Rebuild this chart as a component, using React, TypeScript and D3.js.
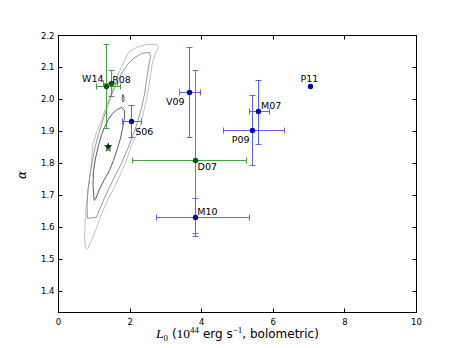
import React from "react";
import * as d3 from "d3";

// sources: luminosity L0 (1e44 erg/s) and alpha with error ranges
const sourceNames = ["W14", "R08", "S06", "V09", "D07", "M10", "P09", "M07", "P11"];
const sourceGroup = ["g", "g", "b", "b", "g", "b", "b", "b", "b"];
const lumValues = [1.34, 1.47, 2.03, 3.66, 3.83, 3.82, 5.42, 5.6, 7.04];
const alphaValues = [2.041, 2.05, 1.932, 2.021, 1.81, 1.63, 1.902, 1.961, 2.04];
const lumLow = [1.05, 1.25, 1.8, 3.37, 2.08, 2.75, 4.6, 5.33, null];
const lumHigh = [1.72, 1.65, 2.32, 3.97, 5.25, 5.33, 6.32, 5.9, null];
const alphaLow = [1.91, 2.01, 1.882, 1.881, 1.58, 1.571, 1.792, 1.86, null];
const alphaHigh = [2.171, 2.09, 1.98, 2.162, 2.09, 1.69, 2.011, 2.06, null];

// best-fit markers
const starPoint = [1.39, 1.852];
const crossPoint = [1.39, 1.844];

// likelihood contours (outer -> inner)
const contourOuter: [number, number][] = [
  [1.955, 2.147], [2.179, 2.163], [2.458, 2.172], [2.737, 2.172], [2.793, 2.163],
  [2.709, 2.144], [2.626, 2.116], [2.57, 2.078], [2.514, 2.034], [2.458, 1.997],
  [2.374, 1.959], [2.291, 1.922], [2.179, 1.888], [2.039, 1.856], [1.927, 1.819],
  [1.76, 1.772], [1.564, 1.725], [1.369, 1.684], [1.201, 1.641], [1.061, 1.597],
  [0.922, 1.559], [0.81, 1.531], [0.754, 1.538], [0.726, 1.566], [0.74, 1.606],
  [0.768, 1.653], [0.81, 1.7], [0.866, 1.753], [0.922, 1.803], [0.95, 1.853],
  [1.061, 1.897], [1.201, 1.934], [1.313, 1.972], [1.425, 2.006], [1.536, 2.038],
  [1.648, 2.072], [1.76, 2.103], [1.872, 2.128],
];
const contourMiddle: [number, number][] = [
  [2.095, 2.128], [2.318, 2.144], [2.542, 2.147], [2.57, 2.134], [2.514, 2.103],
  [2.458, 2.059], [2.402, 2.016], [2.318, 1.972], [2.207, 1.928], [2.067, 1.884],
  [1.927, 1.844], [1.76, 1.8], [1.592, 1.763], [1.425, 1.725], [1.285, 1.691],
  [1.173, 1.663], [1.061, 1.631], [0.81, 1.628], [0.796, 1.669], [0.824, 1.716],
  [0.88, 1.763], [0.95, 1.809], [1.034, 1.856], [1.145, 1.9], [1.257, 1.941],
  [1.369, 1.978], [1.48, 2.013], [1.62, 2.05], [1.76, 2.081], [1.927, 2.109],
];
const contourInner: [number, number][] = [
  [0.997, 1.684], [0.964, 1.731], [0.978, 1.778], [1.034, 1.816], [1.117, 1.856],
  [1.201, 1.888], [1.285, 1.913], [1.397, 1.938], [1.508, 1.956], [1.648, 1.969],
  [1.76, 1.975], [1.844, 1.966], [1.844, 1.941], [1.788, 1.909], [1.732, 1.878],
  [1.648, 1.847], [1.536, 1.809], [1.425, 1.778], [1.285, 1.75], [1.145, 1.719],
  [1.034, 1.688],
];
const contourIsland: [number, number][] = [
  [1.8, 2.016], [1.83, 2.006], [1.83, 1.996], [1.8, 1.992], [1.775, 2.0],
];

const xTicks = [0, 2, 4, 6, 8, 10];
const yTicks = [1.4, 1.5, 1.6, 1.7, 1.8, 1.9, 2.0, 2.1, 2.2];

// label placement relative to the marker
const labelPlace: Record<string, { dx: number; dy: number; anchor: string }> = {
  W14: { dx: -3, dy: -4, anchor: "end" },
  R08: { dx: 1, dy: 0, anchor: "start" },
  S06: { dx: 4, dy: 14, anchor: "start" },
  V09: { dx: -5, dy: 12, anchor: "end" },
  D07: { dx: 2, dy: 10, anchor: "start" },
  M10: { dx: 2, dy: -3, anchor: "start" },
  P09: { dx: -3, dy: 12, anchor: "end" },
  M07: { dx: 2, dy: -3, anchor: "start" },
  P11: { dx: -10, dy: -5, anchor: "start" },
};

const W = 463;
const H = 348;
const left = 58.5, right = 416.5, top = 35.5, bottom = 312.5;

// snap to pixel centre so 1px lines stay crisp
const px = (v: number) => Math.round(v - 0.5) + 0.5;

export default function App() {
  const x = d3.scaleLinear().domain([0, 10]).range([left, right]);
  const y = d3.scaleLinear().domain([1.333, 2.2]).range([bottom, top]);
  const line = d3
    .line<[number, number]>()
    .x((d) => x(d[0]))
    .y((d) => y(d[1]))
    .curve(d3.curveLinearClosed);

  const errColor = { g: "#45a345", b: "#5f5ff8" };
  const dotColor = { g: "#005a00", b: "#0000b4" };
  const cap = 3;
  const font = "'DejaVu Sans', sans-serif";

  return (
    <svg
      width={W}
      height={H}
      style={{ position: "absolute", left: 0, top: 0, background: "#fff" }}
    >
      <defs>
        <clipPath id="plotArea">
          <rect x={left} y={top} width={right - left} height={bottom - top} />
        </clipPath>
      </defs>
      <g clipPath="url(#plotArea)" fill="none" strokeWidth={0.9}>
        <path d={line(contourOuter) || ""} stroke="#b8b8b8" />
        <path d={line(contourMiddle) || ""} stroke="#8c8c8c" />
        <path d={line(contourInner) || ""} stroke="#4a4a4a" />
        <path d={line(contourIsland) || ""} stroke="#4a4a4a" />
      </g>

      {sourceNames.map((name, i) => {
        const c = errColor[sourceGroup[i] as "g" | "b"];
        const cx = px(x(lumValues[i]));
        const cy = px(y(alphaValues[i]));
        const lo = lumLow[i], hi = lumHigh[i], alo = alphaLow[i], ahi = alphaHigh[i];
        return (
          <g key={"err" + name} stroke={c} strokeWidth={1}>
            {lo != null && hi != null && (
              <>
                <line x1={px(x(lo))} x2={px(x(hi))} y1={cy} y2={cy} />
                <line x1={px(x(lo))} x2={px(x(lo))} y1={cy - cap} y2={cy + cap} />
                <line x1={px(x(hi))} x2={px(x(hi))} y1={cy - cap} y2={cy + cap} />
              </>
            )}
            {alo != null && ahi != null && (
              <>
                <line x1={cx} x2={cx} y1={px(y(alo))} y2={px(y(ahi))} />
                <line x1={cx - cap} x2={cx + cap} y1={px(y(alo))} y2={px(y(alo))} />
                <line x1={cx - cap} x2={cx + cap} y1={px(y(ahi))} y2={px(y(ahi))} />
              </>
            )}
          </g>
        );
      })}

      {sourceNames.map((name, i) => (
        <circle
          key={"pt" + name}
          cx={px(x(lumValues[i]))}
          cy={px(y(alphaValues[i]))}
          r={2.7}
          fill={dotColor[sourceGroup[i] as "g" | "b"]}
        />
      ))}

      {/* best fit: black star and green cross */}
      <path
        d={d3.symbol(d3.symbolStar, 22)() || ""}
        transform={`translate(${x(starPoint[0])},${y(starPoint[1])})`}
        fill="#000"
      />
      <path
        d={d3.symbol(d3.symbolTimes, 14)() || ""}
        transform={`translate(${x(crossPoint[0])},${y(crossPoint[1])})`}
        stroke="#1f8f1f"
        strokeWidth={1.3}
        fill="none"
      />

      {sourceNames.map((name, i) => {
        const p = labelPlace[name];
        return (
          <text
            key={"lb" + name}
            x={x(lumValues[i]) + p.dx}
            y={y(alphaValues[i]) + p.dy}
            textAnchor={p.anchor}
            fontFamily={font}
            fontSize={9.5}
            fill="#000"
          >
            {name}
          </text>
        );
      })}

      {/* frame */}
      <rect
        x={left}
        y={top}
        width={right - left}
        height={bottom - top}
        fill="none"
        stroke="#000"
        strokeWidth={1}
      />
      {xTicks.map((t) => (
        <g key={"xt" + t}>
          <line x1={px(x(t))} x2={px(x(t))} y1={bottom} y2={bottom - 4} stroke="#000" />
          <line x1={px(x(t))} x2={px(x(t))} y1={top} y2={top + 4} stroke="#000" />
          <text
            x={x(t)}
            y={bottom + 12}
            textAnchor="middle"
            fontFamily={font}
            fontSize={8.5}
          >
            {t}
          </text>
        </g>
      ))}
      {yTicks.map((t) => (
        <g key={"yt" + t}>
          <line x1={left} x2={left + 4} y1={px(y(t))} y2={px(y(t))} stroke="#000" />
          <line x1={right} x2={right - 4} y1={px(y(t))} y2={px(y(t))} stroke="#000" />
          <text
            x={left - 4}
            y={y(t) + 3}
            textAnchor="end"
            fontFamily={font}
            fontSize={8.5}
          >
            {d3.format(".1f")(t)}
          </text>
        </g>
      ))}

      <text
        transform={`translate(26,175) rotate(-90)`}
        textAnchor="middle"
        fontFamily="'DejaVu Serif', serif"
        fontStyle="italic"
        fontSize={12}
      >
        α
      </text>

      <text x={(left + right) / 2} y={338} textAnchor="middle" fontFamily={font} fontSize={12} fill="#000">
        <tspan fontFamily="'Liberation Serif', serif" fontStyle="italic" fontSize={13.5}>L</tspan>
        <tspan fontFamily="'Liberation Serif', serif" fontSize={9} dy={2.5}>0</tspan>
        <tspan dy={-2.5}> (</tspan>
        <tspan fontFamily="'Liberation Serif', serif" fontSize={13.5}>10</tspan>
        <tspan fontFamily="'Liberation Serif', serif" fontSize={9} dy={-5}>44</tspan>
        <tspan dy={5}>{"  erg s"}</tspan>
        <tspan fontFamily="'Liberation Serif', serif" fontSize={9} dy={-5}>−1</tspan>
        <tspan dy={5}>, bolometric)</tspan>
      </text>
    </svg>
  );
}
